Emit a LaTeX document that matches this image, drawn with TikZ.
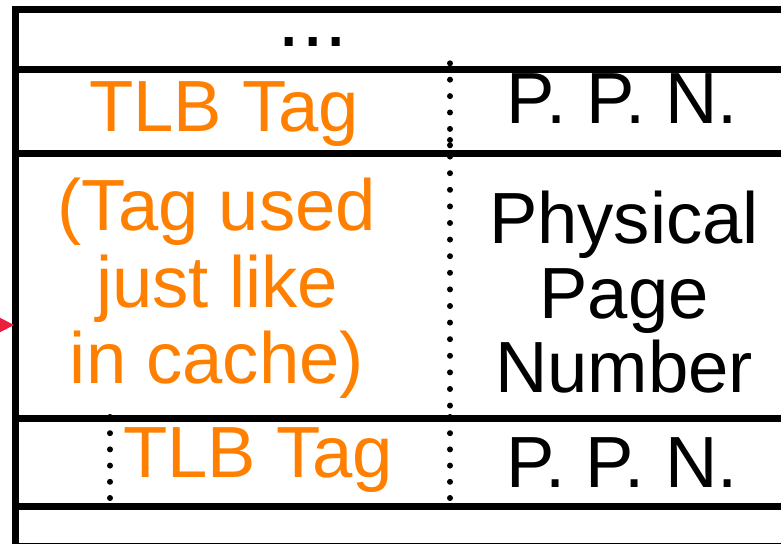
\documentclass[tikz,border=0pt]{standalone}
\usepackage{fontspec}
\setmainfont{Liberation Sans}
\definecolor{tagorange}{RGB}{255,128,0}
\definecolor{ptrred}{RGB}{235,30,60}
\begin{document}
\begin{tikzpicture}[x=1bp,y=-1bp,
  rule/.style={line width=7bp},
  dotrule/.style={line width=6bp, line cap=round, dash pattern=on 0pt off 16.4bp},
  lbl/.style={inner sep=0pt, anchor=base, font=\fontsize{72.5bp}{86bp}\selectfont},
  tag/.style={lbl, text=tagorange},
]
\useasboundingbox (0,0) rectangle (781,544);
\clip (0,0) rectangle (781,544);

% table frame and row separators
\coordinate (frameTR) at (800,9.5);
\coordinate (frameTL) at (15,9.5);
\coordinate (frameBL) at (15,560);
\draw[rule] (frameTR) -- (frameTL) -- (frameBL);
\foreach \yy/\nm in {70/rowA,154/rowB,418/rowC,506/rowD,546/rowE}{
  \coordinate (\nm L) at (15,\yy);
  \coordinate (\nm R) at (800,\yy);
  \draw[rule] (\nm L) -- (\nm R);
}

% column divider (dotted) and tag divider in the lower entry
\coordinate (divA) at (450,63.3);
\coordinate (divB) at (450,146);
\coordinate (divC) at (450,140);
\coordinate (divD) at (450,410);
\coordinate (divE) at (450,417);
\coordinate (divF) at (450,500);
\draw[dotrule] (divA) -- (divB);
\draw[dotrule, dash pattern=on 0pt off 16.6bp] (divC) -- (divD);
\draw[dotrule, dash pattern=on 0pt off 16.2bp] (divE) -- (divF);
\coordinate (subA) at (110,417);
\coordinate (subB) at (110,500);
\draw[dotrule, dash pattern=on 0pt off 16.2bp] (subA) -- (subB);

% incoming pointer
\coordinate (ptrtip) at (14,325);
\fill[ptrred] (ptrtip) -- ++(-16,-8.3) -- ++(0,16.6) -- cycle;

% entries
\node[lbl, font=\fontsize{84bp}{96bp}\selectfont, text height=8bp, text depth=0pt]
  (ell) at (313,46.5) {...};

\node[tag] (tagA) at (224,131.7) {TLB Tag};
\node[lbl] (ppnA) at (622.5,124) {P. P. N.};

\node[tag] (descA) at (217,231) {(Tag used};
\node[tag] (descB) at (217,308) {just like};
\node[tag] (descC) at (217,383) {in cache)};

\node[lbl] (physA) at (624,244) {Physical};
\node[lbl] (physB) at (624,318) {Page};
\node[lbl] (physC) at (624,392) {Number};

\node[tag] (tagB) at (258,477) {TLB Tag};
\node[lbl] (ppnB) at (622,487) {P. P. N.};
\end{tikzpicture}
\end{document}
